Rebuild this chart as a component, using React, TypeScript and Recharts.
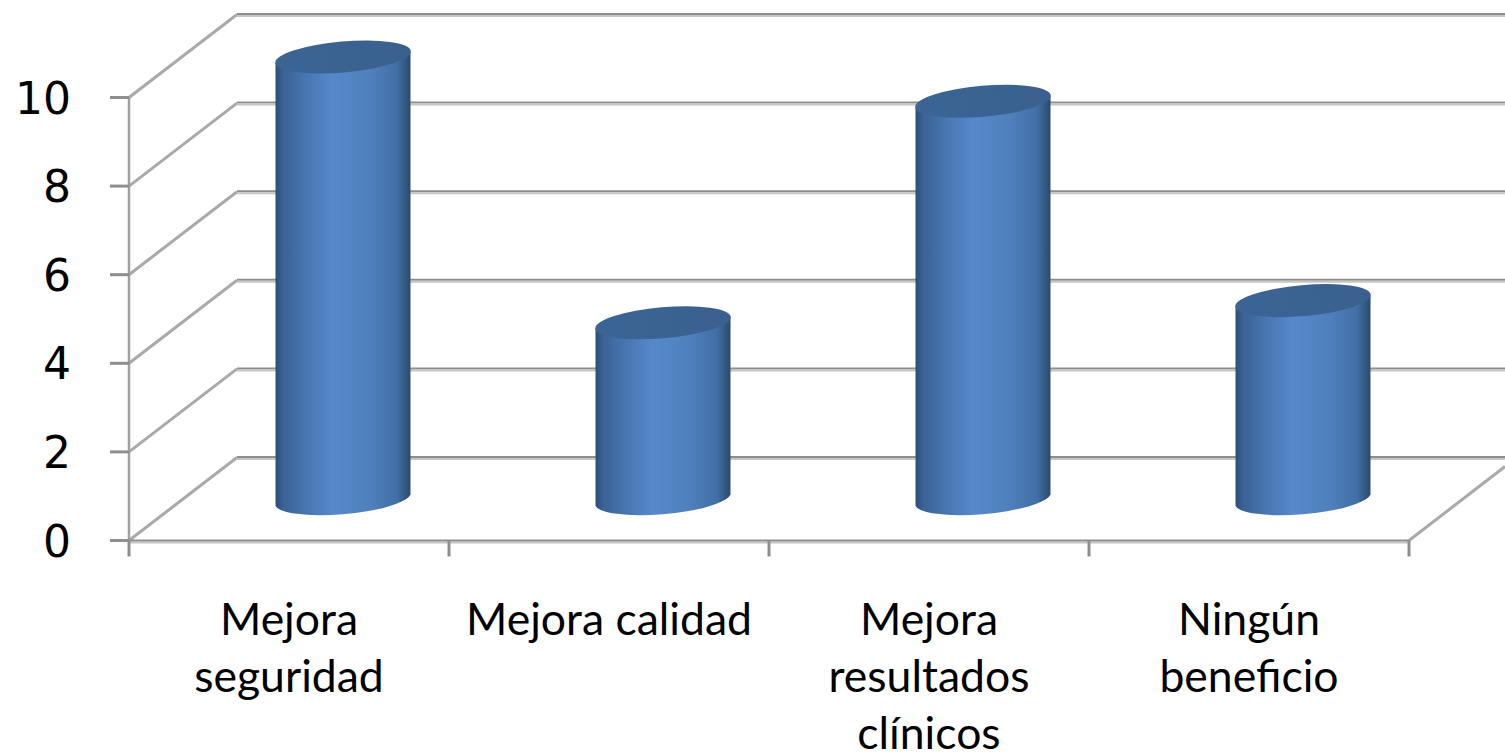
import { Bar, BarChart, CartesianGrid, XAxis, YAxis } from "recharts";

// values
const categories = ["Mejora seguridad", "Mejora calidad", "Mejora resultados clínicos", "Ningún beneficio"];
const labelLines = [["Mejora", "seguridad"], ["Mejora calidad"], ["Mejora", "resultados", "clínicos"], ["Ningún", "beneficio"]];
const values = [10, 4, 9, 4.5];
const yTicks = [0, 2, 4, 6, 8, 10];

const chartData = categories.map((name, i) => ({ name, value: values[i] }));

const WIDTH = 1505;
const HEIGHT = 754;
const LEFT = 129;
const TOP = 97.5;
const RIGHT = 96;
const X_AXIS_H = 213.5;
const STEP = (WIDTH - LEFT - RIGHT) / categories.length;

// depth of the fake 3d box
const DEPTH_X = 108;
const DEPTH_Y = 83;
const GREY = "#8e8e8e";
const LIGHT = "#c6c6c6";

const GridLine = (props: any) => {
  const { x1, x2, y1 } = props;
  const isFloor = Math.abs(y1 - (HEIGHT - X_AXIS_H)) < 1;
  const backY = y1 - DEPTH_Y;
  const backX = x1 + DEPTH_X;
  return (
    <g>
      <line x1={x1} y1={y1} x2={backX} y2={backY} stroke="#a9a9a9" strokeWidth={3} />
      <line x1={backX} y1={backY - 0.5} x2={WIDTH} y2={backY - 0.5} stroke={GREY} strokeWidth={2} />
      <line x1={backX} y1={backY + 1.5} x2={WIDTH} y2={backY + 1.5} stroke={LIGHT} strokeWidth={2} />
      {isFloor && (
        <>
          <line x1={x2} y1={y1} x2={WIDTH} y2={y1 - 74} stroke="#a9a9a9" strokeWidth={3} />
          <line x1={x1} y1={y1 + 2} x2={x2} y2={y1 + 2} stroke={LIGHT} strokeWidth={2} />
        </>
      )}
    </g>
  );
};

const Cylinder = (props: any) => {
  const { x, y, width, height } = props;
  const cx = x + width / 2 + 53.5;
  const rx = width / 2;
  const top = y - 40.5;
  const base = y + height - 40.5;
  const dy = 5.5;
  const body = `M${cx - rx},${top + dy} L${cx - rx},${base + dy} A68,15.5 -5 0 0 ${cx + rx},${base - dy} L${cx + rx},${top - dy} Z`;
  return (
    <g>
      <path d={body} fill="url(#cylinderSide)" />
      <ellipse cx={cx} cy={top} rx={68} ry={15.5} transform={`rotate(-5 ${cx} ${top})`} fill="url(#cylinderTop)" />
    </g>
  );
};

const YTick = (props: any) => {
  const { y, payload } = props;
  return (
    <g>
      <line x1={110} y1={y} x2={LEFT} y2={y} stroke={GREY} strokeWidth={3} />
      <text x={71} y={y} dy={16} textAnchor="end" fontFamily="'DejaVu Sans'" fontSize={44} fill="#000">
        {payload.value}
      </text>
    </g>
  );
};

const XTick = (props: any) => {
  const { x, y, payload, index } = props;
  const lines = labelLines[categories.indexOf(payload.value)];
  return (
    <g>
      <line x1={x - STEP / 2} y1={y} x2={x - STEP / 2} y2={y + 16} stroke={GREY} strokeWidth={3} />
      {index === categories.length - 1 && (
        <line x1={x + STEP / 2} y1={y} x2={x + STEP / 2} y2={y + 16} stroke={GREY} strokeWidth={3} />
      )}
      <text textAnchor="middle" fontFamily="Lato" fontSize={44.5} fill="#000">
        {lines.map((line: string, i: number) => (
          <tspan key={line} x={x} y={y + 94 + i * 57}>
            {line}
          </tspan>
        ))}
      </text>
    </g>
  );
};

const App = () => {
  return (
    <div style={{ position: "absolute", left: 0, top: 0, width: WIDTH, height: HEIGHT, overflow: "hidden", background: "#fff" }}>
      <BarChart
        width={WIDTH}
        height={HEIGHT}
        data={chartData}
        margin={{ top: TOP, right: RIGHT, bottom: 0, left: 0 }}
      >
        <defs>
          <linearGradient id="cylinderSide" x1="0" y1="0" x2="1" y2="0">
            <stop offset="0%" stopColor="#2d4e76" />
            <stop offset="6%" stopColor="#3a6396" />
            <stop offset="20%" stopColor="#4673ad" />
            <stop offset="42%" stopColor="#5589ca" />
            <stop offset="70%" stopColor="#4f80bd" />
            <stop offset="90%" stopColor="#426fa6" />
            <stop offset="100%" stopColor="#2b4a6e" />
          </linearGradient>
          <linearGradient id="cylinderTop" x1="0" y1="0" x2="1" y2="0">
            <stop offset="0%" stopColor="#3b6595" />
            <stop offset="100%" stopColor="#3a608f" />
          </linearGradient>
        </defs>
        <CartesianGrid vertical={false} horizontal={(p: any) => <GridLine key={p.key} {...p} />} />
        <XAxis
          dataKey="name"
          height={X_AXIS_H}
          interval={0}
          tickLine={false}
          tickSize={0}
          tickMargin={0}
          axisLine={{ stroke: GREY, strokeWidth: 2 }}
          tick={<XTick />}
        />
        <YAxis
          width={LEFT}
          domain={[0, 10]}
          ticks={yTicks}
          tickLine={false}
          axisLine={{ stroke: "#a0a0a0", strokeWidth: 2.5 }}
          tick={<YTick />}
        />
        <Bar dataKey="value" barSize={135} isAnimationActive={false} shape={<Cylinder />} />
      </BarChart>
    </div>
  );
};

export default App;
